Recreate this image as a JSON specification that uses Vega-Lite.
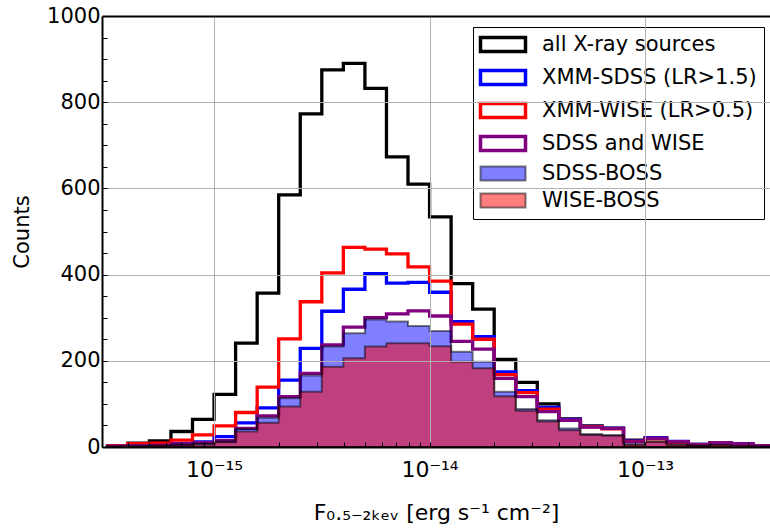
{
  "$schema": "https://vega.github.io/schema/vega-lite/v6.json",
  "autosize": "none",
  "padding": {"left": 102, "top": 16, "right": 0, "bottom": 83},
  "width": 668,
  "height": 431,
  "config": {"font": "DejaVu Sans", "view": {"stroke": null}},
  "data": {"values": [
    {"f": 3.162e-16, "a": 3, "b": 2, "c": 3, "d": 2, "e": 1, "g": 1},
    {"f": 3.981e-16, "a": 9, "b": 4, "c": 8, "d": 3, "e": 2, "g": 2},
    {"f": 5.012e-16, "a": 14, "b": 5, "c": 9, "d": 4, "e": 3, "g": 3},
    {"f": 6.310e-16, "a": 36, "b": 8, "c": 16, "d": 7, "e": 5, "g": 4},
    {"f": 7.943e-16, "a": 64, "b": 12, "c": 28, "d": 10, "e": 8, "g": 6},
    {"f": 1.000e-15, "a": 122, "b": 24, "c": 49, "d": 15, "e": 13, "g": 11},
    {"f": 1.259e-15, "a": 241, "b": 56, "c": 80, "d": 43, "e": 42, "g": 36},
    {"f": 1.585e-15, "a": 357, "b": 91, "c": 139, "d": 72, "e": 68, "g": 56},
    {"f": 1.995e-15, "a": 585, "b": 155, "c": 251, "d": 117, "e": 113, "g": 94},
    {"f": 2.512e-15, "a": 773, "b": 229, "c": 337, "d": 171, "e": 166, "g": 128},
    {"f": 3.162e-15, "a": 875, "b": 315, "c": 404, "d": 237, "e": 233, "g": 186},
    {"f": 3.981e-15, "a": 890, "b": 366, "c": 463, "d": 278, "e": 264, "g": 206},
    {"f": 5.012e-15, "a": 832, "b": 402, "c": 459, "d": 300, "e": 296, "g": 233},
    {"f": 6.310e-15, "a": 673, "b": 380, "c": 448, "d": 309, "e": 291, "g": 241},
    {"f": 7.943e-15, "a": 610, "b": 382, "c": 418, "d": 316, "e": 281, "g": 241},
    {"f": 1.000e-14, "a": 534, "b": 359, "c": 385, "d": 304, "e": 269, "g": 234},
    {"f": 1.259e-14, "a": 379, "b": 291, "c": 285, "d": 245, "e": 221, "g": 198},
    {"f": 1.585e-14, "a": 320, "b": 256, "c": 250, "d": 227, "e": 198, "g": 183},
    {"f": 1.995e-14, "a": 203, "b": 174, "c": 168, "d": 159, "e": 128, "g": 118},
    {"f": 2.512e-14, "a": 150, "b": 131, "c": 126, "d": 117, "e": 88, "g": 84},
    {"f": 3.162e-14, "a": 100, "b": 92, "c": 88, "d": 82, "e": 62, "g": 59},
    {"f": 3.981e-14, "a": 65, "b": 64, "c": 62, "d": 62, "e": 43, "g": 39},
    {"f": 5.012e-14, "a": 49, "b": 48, "c": 47, "d": 46, "e": 30, "g": 28},
    {"f": 6.310e-14, "a": 44, "b": 43, "c": 42, "d": 43, "e": 28, "g": 26},
    {"f": 7.943e-14, "a": 16, "b": 14, "c": 13, "d": 12, "e": 6, "g": 5},
    {"f": 1.000e-13, "a": 21, "b": 21, "c": 19, "d": 20, "e": 12, "g": 12},
    {"f": 1.259e-13, "a": 12, "b": 13, "c": 11, "d": 12, "e": 5, "g": 5},
    {"f": 1.585e-13, "a": 6, "b": 6, "c": 5, "d": 5, "e": 3, "g": 3},
    {"f": 1.995e-13, "a": 10, "b": 10, "c": 9, "d": 9, "e": 4, "g": 4},
    {"f": 2.512e-13, "a": 8, "b": 8, "c": 6, "d": 7, "e": 2, "g": 2},
    {"f": 3.162e-13, "a": 3, "b": 3, "c": 3, "d": 3, "e": 1, "g": 1},
    {"f": 3.981e-13, "a": 3, "b": 3, "c": 3, "d": 3, "e": 1, "g": 1}
  ]},
  "transform": [{"fold": ["a", "b", "c", "d", "e", "g"], "as": ["s", "n"]}],
  "encoding": {
    "x": {
      "field": "f", "type": "quantitative",
      "scale": {"type": "log", "domain": [3.02e-16, 3.8e-13], "nice": false},
      "axis": {
        "zindex": 1,
        "values": [4e-16, 5e-16, 6e-16, 7e-16, 8e-16, 9e-16, 1e-15, 2e-15, 3e-15, 4e-15, 5e-15, 6e-15, 7e-15, 8e-15, 9e-15, 1e-14, 2e-14, 3e-14, 4e-14, 5e-14, 6e-14, 7e-14, 8e-14, 9e-14, 1e-13, 2e-13, 3e-13],
        "labelExpr": "datum.value === 1e-15 ? '10⁻¹⁵' : datum.value === 1e-14 ? '10⁻¹⁴' : datum.value === 1e-13 ? '10⁻¹³' : ''",
        "title": "F₀.₅₋₂ₖₑᵥ [erg s⁻¹  cm⁻²]",
        "titleFontSize": 22, "titleFontWeight": "normal", "titleColor": "black", "titlePadding": 22,
        "labelFontSize": 22, "labelColor": "black", "labelFlush": false, "labelOverlap": false, "labelPadding": 17,
        "domainColor": "black", "domainWidth": 2,
        "tickColor": "black", "tickWidth": 1,
        "tickSize": -5,
        "grid": true, "gridColor": "#b0b0b0", "gridWidth": 1,
        "gridOpacity": {"condition": {"test": "datum.value === 1e-15 || datum.value === 1e-14 || datum.value === 1e-13", "value": 1}, "value": 0}
      }
    },
    "y": {
      "field": "n", "type": "quantitative",
      "scale": {"domain": [0, 1000], "nice": false},
      "axis": {
        "zindex": 1,
        "values": [0, 50, 100, 150, 200, 250, 300, 350, 400, 450, 500, 550, 600, 650, 700, 750, 800, 850, 900, 950, 1000],
        "labelExpr": "datum.value % 200 === 0 ? '' + datum.value : ''",
        "title": "Counts", "titleFontSize": 21, "titleFontWeight": "normal", "titleColor": "black", "titlePadding": 14,
        "labelFontSize": 21, "labelColor": "black", "labelFlush": false, "labelOverlap": false, "labelPadding": 7,
        "domainColor": "black", "domainWidth": 2,
        "tickColor": "black", "tickWidth": 1,
        "tickSize": -5,
        "grid": true,
        "gridColor": {"condition": {"test": "datum.value === 1000", "value": "black"}, "value": "#b0b0b0"},
        "gridWidth": {"condition": {"test": "datum.value === 1000", "value": 2}, "value": 1},
        "gridOpacity": {"condition": {"test": "datum.value % 200 === 0", "value": 1}, "value": 0}
      }
    }
  },
  "layer": [
    {
      "transform": [{"filter": "indexof(['a','b','c','d'], datum.s) >= 0"}],
      "mark": {"type": "line", "interpolate": "step-after", "strokeWidth": 3.3, "clip": true},
      "encoding": {
        "stroke": {
          "field": "s", "type": "nominal",
          "scale": {"domain": ["a", "b", "c", "d", "e", "g"], "range": ["black", "blue", "red", "purple", "black", "black"]},
          "legend": {
            "orient": "none", "legendX": 371, "legendY": 11,
            "title": null,
            "symbolType": "M-1,-0.7H3.5V0.7H-1Z",
            "symbolSize": 400,
            "symbolStrokeWidth": 3,
            "labelFontSize": 21, "labelColor": "black", "labelLimit": 320,
            "labelOffset": 41,
            "rowPadding": 4,
            "padding": 7,
            "strokeColor": "black", "fillColor": "white",
            "labelExpr": "datum.value === 'a' ? 'all X-ray sources' : datum.value === 'b' ? 'XMM-SDSS (LR>1.5)' : datum.value === 'c' ? 'XMM-WISE (LR>0.5)' : datum.value === 'd' ? 'SDSS and WISE' : datum.value === 'e' ? 'SDSS-BOSS' : 'WISE-BOSS'",
            "encode": {"symbols": {"update": {
              "fill": {"signal": "datum.value === 'e' ? 'blue' : datum.value === 'g' ? 'red' : 'white'"},
              "fillOpacity": {"value": 0.5},
              "strokeOpacity": {"signal": "datum.value === 'e' || datum.value === 'g' ? 0.5 : 1"},
              "strokeWidth": {"signal": "datum.value === 'e' || datum.value === 'g' ? 2 : 3.5"}
            }}}
          }
        }
      }
    },
    {
      "transform": [{"filter": "datum.s === 'e'"}],
      "mark": {"type": "area", "interpolate": "step-after", "fill": "blue", "fillOpacity": 0.5, "stroke": "black", "strokeOpacity": 0.5, "strokeWidth": 2, "clip": true},
      "encoding": {}
    },
    {
      "transform": [{"filter": "datum.s === 'g'"}],
      "mark": {"type": "area", "interpolate": "step-after", "fill": "red", "fillOpacity": 0.5, "stroke": "black", "strokeOpacity": 0.5, "strokeWidth": 2, "clip": true},
      "encoding": {}
    }
  ]
}
